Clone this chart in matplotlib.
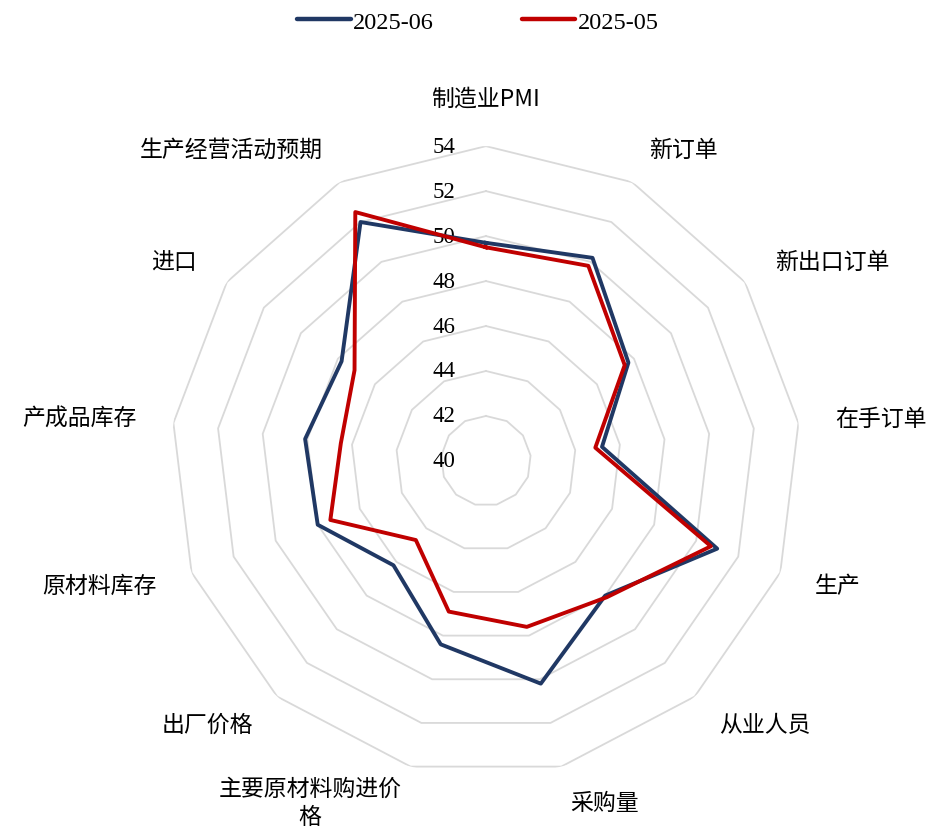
import numpy as np
import matplotlib
matplotlib.use('Agg')
import matplotlib.pyplot as plt
from matplotlib.lines import Line2D

plt.rcParams['font.family'] = ['Noto Sans CJK SC', 'DejaVu Sans']

# PMI sub-indices, clockwise from the top
categories = ['制造业PMI', '新订单', '新出口订单', '在手订单', '生产', '从业人员', '采购量',
              '主要原材料购进价\n格', '出厂价格', '原材料库存', '产成品库存', '进口', '生产经营活动预期']
jun_2025 = [49.7, 50.2, 47.7, 45.2, 51.0, 48.0, 50.2, 48.4, 46.2, 48.0, 48.1, 47.8, 52.0]
may_2025 = [49.5, 49.8, 47.5, 44.9, 50.7, 48.1, 47.6, 46.9, 44.7, 47.4, 46.5, 47.1, 52.5]
ring_ticks = [40, 42, 44, 46, 48, 50, 52, 54]

C_JUN = '#203864'
C_MAY = '#C00000'
GRID = '#d9d9d9'

n = len(categories)
theta = np.arange(n) * 2 * np.pi / n
theta_c = np.append(theta, theta[0])

fig = plt.figure(figsize=(9.3, 8.28), dpi=100)
ax = fig.add_axes([0.184, 0.0616, 0.677, 0.761], projection='polar')
ax.set_theta_offset(np.pi / 2)
ax.set_theta_direction(-1)
ax.set_ylim(40, 54)
ax.grid(False)
ax.spines['polar'].set_visible(False)
ax.set_xticks([])
ax.set_yticks([])

# polygon grid rings
for v in ring_ticks[1:]:
    ax.plot(theta_c, [v] * (n + 1), color=GRID, lw=1.3, zorder=1)

# radial value labels
for v in ring_ticks:
    ax.annotate(str(v), xy=(0, v), xytext=(-22, 0), textcoords='offset points',
                ha='right', va='center', fontsize=16.5, family='Liberation Serif', color='black')

ax.plot(theta_c, jun_2025 + jun_2025[:1], color=C_JUN, lw=2.8, zorder=3)
ax.plot(theta_c, may_2025 + may_2025[:1], color=C_MAY, lw=2.8, zorder=4)

# category labels
for t, lab in zip(theta, categories):
    s = np.sin(t)
    if abs(s) < 0.1:
        ha, va = 'center', ('bottom' if np.cos(t) > 0 else 'top')
    elif s > 0:
        ha, va = 'left', 'center'
    else:
        ha, va = 'right', 'center'
    ax.text(t, 55.64, lab, ha=ha, va=va, fontsize=16.5, multialignment='center',
            linespacing=1.25)

handles = [Line2D([], [], color=C_JUN, lw=3.2, solid_capstyle='round'),
           Line2D([], [], color=C_MAY, lw=3.2, solid_capstyle='round')]
fig.legend(handles, ['2025-06', '2025-05'], loc='upper center', bbox_to_anchor=(0.514, 1.012),
           ncol=2, frameon=False, handlelength=2.2, handletextpad=0.1, columnspacing=3.6,
           prop={'family': 'Liberation Serif', 'size': 17.5})

fig.savefig('out.png', dpi=100)
